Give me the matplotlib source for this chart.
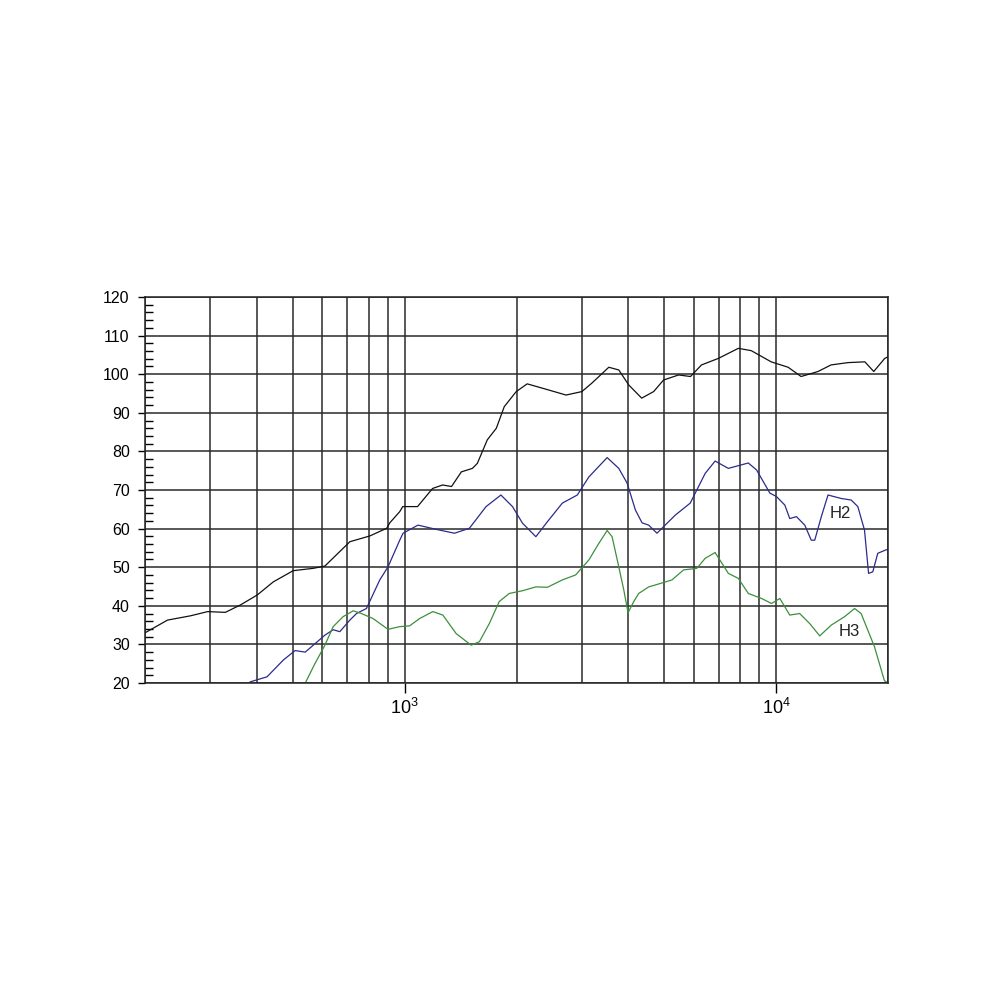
import matplotlib
matplotlib.use("Agg")
import matplotlib.pyplot as plt
from matplotlib.ticker import LogLocator, MultipleLocator, NullFormatter
import numpy as np

plt.rcParams['font.family'] = ['Liberation Sans', 'DejaVu Sans']
plt.rcParams['mathtext.fontset'] = 'custom'
plt.rcParams['mathtext.rm'] = 'Liberation Sans'

# fundamental (black)
f_fund = [200, 230, 265, 295, 329, 361, 401, 443, 501, 567, 610, 712, 806, 895, 912, 970,
          988, 1083, 1189, 1265, 1337, 1421, 1522, 1569, 1669, 1765, 1854, 1997, 2137, 2403,
          2719, 3000, 3192, 3544, 3770, 4011, 4345, 4680, 4977, 5462, 5880, 6295, 6991,
          7911, 8570, 9696, 10770, 11670, 12960, 14050, 15600, 17330, 18310, 19600, 20000]
db_fund = [33.0, 36.3, 37.4, 38.5, 38.3, 40.2, 42.8, 46.2, 49.1, 49.7, 50.3, 56.6, 58.1, 60.1, 61.5, 64.4,
           65.7, 65.7, 70.4, 71.3, 70.9, 74.7, 75.6, 76.9, 83.0, 86.0, 91.6, 95.5, 97.5, 96.1,
           94.6, 95.5, 97.7, 101.8, 101.1, 97.2, 93.8, 95.5, 98.5, 99.8, 99.4, 102.4, 104.1,
           106.7, 106.1, 103.2, 101.8, 99.4, 100.7, 102.4, 103.0, 103.2, 100.7, 104.1, 104.5]

# second harmonic H2 (blue)
f_h2 = [384, 426, 472, 507, 540, 610, 642, 669, 712, 742, 789, 857, 902, 970, 990, 1086,
        1216, 1362, 1494, 1656, 1816, 1951, 2076, 2255, 2423, 2657, 2915, 3133, 3508, 3770,
        3969, 4180, 4355, 4538, 4777, 4977, 5352, 5870, 6440, 6850, 7435, 8414, 8855, 9618,
        10020, 10550, 10880, 11340, 11940, 12430, 12700, 13230, 13790, 14970, 15920, 16590,
        17290, 17730, 18200, 18770, 19760, 20000]
db_h2 = [20.3, 21.6, 26.0, 28.4, 28.0, 32.4, 33.8, 33.3, 36.3, 38.0, 39.3, 46.7, 50.1, 57.0, 58.8, 60.9,
         59.8, 58.8, 60.1, 65.7, 68.7, 65.7, 61.4, 57.9, 61.8, 66.6, 68.7, 73.4, 78.4, 75.6,
         71.8, 64.8, 61.5, 60.9, 58.8, 60.5, 63.5, 66.6, 74.3, 77.5, 75.6, 77.0, 75.2, 69.2,
         68.3, 66.1, 62.6, 63.1, 60.9, 57.0, 57.0, 63.1, 68.7, 67.8, 67.4, 65.7,
         59.6, 48.4, 48.8, 53.6, 54.5, 54.6]

# third harmonic H3 (green)
f_h3 = [542, 574, 610, 642, 683, 727, 765, 822, 902, 970, 1031, 1097, 1191, 1267, 1376,
        1510, 1589, 1690, 1797, 1912, 2076, 2255, 2423, 2657, 2886, 3133, 3333, 3508, 3617,
        3770, 3889, 3993, 4137, 4266, 4538, 4730, 5241, 5632, 6114, 6440, 6850, 7435, 7909,
        8414, 9133, 9714, 10230, 10880, 11570, 12310, 13100, 14070, 15290, 16260, 16930,
        18390, 19560, 20000]
db_h3 = [20.3, 25.1, 29.8, 34.6, 37.2, 38.7, 38.0, 36.7, 33.9, 34.6, 34.8, 36.7, 38.5, 37.6, 32.8,
         29.8, 30.7, 35.4, 41.1, 43.2, 43.9, 44.9, 44.8, 46.7, 48.0, 51.9, 56.2, 59.5, 57.9,
         50.1, 44.1, 38.2, 41.1, 43.2, 44.9, 45.4, 46.7, 49.3, 49.7, 52.3, 53.8, 48.4, 47.1,
         43.2, 41.9, 40.6, 41.9, 37.6, 38.0, 35.4, 32.2, 35.0, 37.2, 39.3, 38.0,
         29.4, 20.6, 20.0]

fig = plt.figure(figsize=(10, 10), dpi=100)
ax = fig.add_axes([0.145, 0.317, 0.743, 0.386])

ax.plot(f_fund, db_fund, color='#111111', lw=0.9)
ax.plot(f_h2, db_h2, color='#2b2b8c', lw=0.9)
ax.plot(f_h3, db_h3, color='#3d8f3d', lw=0.9)

ax.set_xscale('log')
ax.set_xlim(200, 20000)
ax.set_ylim(20, 120)

ax.xaxis.set_major_locator(LogLocator(base=10, numticks=10))
ax.xaxis.set_minor_locator(LogLocator(base=10, subs=np.arange(2, 10), numticks=20))
ax.xaxis.set_minor_formatter(NullFormatter())
ax.yaxis.set_major_locator(MultipleLocator(10))
ax.yaxis.set_minor_locator(MultipleLocator(2))

ax.grid(which='major', axis='both', color='#2a2a2a', lw=1.1)
ax.grid(which='minor', axis='x', color='#2a2a2a', lw=1.1)

ax.tick_params(axis='x', which='major', direction='out', length=7, width=1, pad=4, labelsize=13)
ax.tick_params(axis='x', which='minor', length=0)
ax.tick_params(axis='y', which='major', direction='out', length=5, width=1, pad=6, labelsize=11.5)
ax.tick_params(axis='y', which='minor', direction='in', length=6, width=1)

for s in ax.spines.values():
    s.set_color('#222222')
    s.set_linewidth(1.1)

ax.text(14900, 63.8, 'H2', fontsize=12, ha='center', va='center', color='#222222')
ax.text(15700, 33.3, 'H3', fontsize=12, ha='center', va='center', color='#222222')

fig.savefig('out.png', dpi=100, facecolor='white')
